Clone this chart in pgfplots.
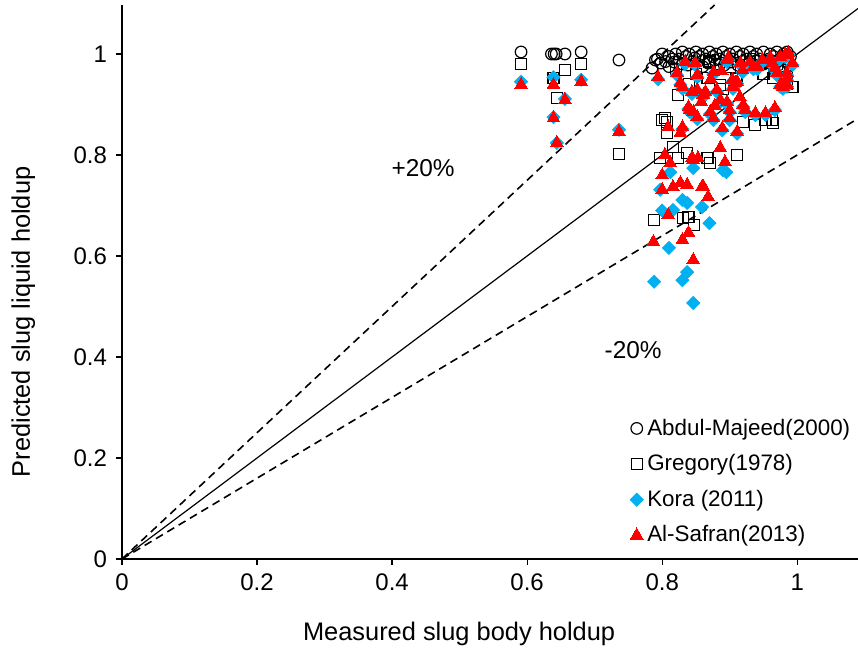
\documentclass[border=0pt]{standalone}
\usepackage{fontspec}
\setmainfont{Liberation Sans}
\usepackage{pgfplots}
\pgfplotsset{compat=1.18}
\definecolor{korablue}{RGB}{0,176,240}

\begin{document}
\begin{tikzpicture}
\path[use as bounding box] (-61pt,-44.5pt) rectangle (368pt,279.5pt);
\begin{axis}[
  scale only axis,
  width=368pt, height=277pt,
  xmin=0, xmax=1.09, ymin=0, ymax=1.097,
  axis lines=left,
  axis line style={-, line width=0.8pt},
  xtick={0,0.2,0.4,0.6,0.8,1},
  ytick={0,0.2,0.4,0.6,0.8,1},
  tick align=outside,
  major tick length=3pt,
  tick style={line width=0.6pt, black},
  /pgf/number format/assume math mode=true,
  ticklabel style={font=\fontsize{12}{14}\selectfont},
  xticklabel style={yshift=-1pt},
  yticklabel style={xshift=-1pt},
  xlabel={Measured slug body holdup},
  ylabel={Predicted slug liquid holdup},
  xlabel style={at={(axis description cs:0.458,0)}, anchor=base, yshift=-41pt, font=\fontsize{12.7}{15}\selectfont},
  ylabel style={at={(axis description cs:-0.125,0.428)}, anchor=base, font=\fontsize{12.7}{15}\selectfont},
  clip=false,
  legend style={draw=none, fill=none, at={(rel axis cs:0.69,0.261)}, anchor=north west,
    font=\fontsize{11.2}{13}\selectfont, row sep=4.2pt, inner sep=0pt},
  legend cell align=left,
  legend image code/.code={\draw[#1,only marks] plot coordinates {(0.1cm,0cm)};},
]

% Abdul-Majeed (2000)
\addplot[only marks, mark=o, mark size=2.9pt, mark options={draw=black, line width=0.6pt}] coordinates {
(0.591,1.004)(0.636,1.000)(0.640,1.000)(0.643,1.000)(0.656,1.000)(0.680,1.004)(0.736,0.988)
(0.785,0.972)(0.790,0.988)(0.793,0.990)(0.800,1.000)(0.805,0.985)(0.810,0.995)(0.815,0.990)
(0.820,1.000)(0.825,0.990)(0.830,1.004)(0.835,0.995)(0.840,1.000)(0.845,0.985)(0.850,1.004)
(0.855,0.995)(0.860,1.000)(0.865,0.990)(0.870,1.004)(0.875,0.995)(0.880,1.000)(0.885,0.990)
(0.890,1.004)(0.895,0.995)(0.900,1.000)(0.905,0.990)(0.910,1.004)(0.915,0.995)(0.920,1.000)
(0.925,0.990)(0.930,1.004)(0.935,0.995)(0.940,1.000)(0.945,0.990)(0.950,1.004)(0.960,1.000)
(0.965,0.995)(0.970,1.004)(0.975,0.990)(0.980,1.000)(0.985,1.004)(0.990,0.995)(0.810,0.975)
(0.830,0.980)(0.860,0.975)(0.880,0.980)(0.920,0.985)(0.950,0.980)(0.975,0.975)(0.985,0.985)
(0.798,0.982)(0.818,0.984)(0.838,0.978)(0.848,0.992)(0.868,0.982)(0.878,0.988)(0.892,0.978)
(0.902,0.984)(0.912,0.978)(0.928,0.980)(0.938,0.986)(0.958,0.990)(0.968,0.982)(0.988,0.978)
};
\addlegendentry{Abdul-Majeed(2000)}

% Gregory (1978)
\addplot[only marks, mark=square, mark size=2.75pt, mark options={draw=black, line width=0.6pt}] coordinates {
(0.591,0.980)(0.639,0.952)(0.644,0.913)(0.656,0.968)(0.680,0.980)(0.736,0.802)
(0.788,0.671)(0.831,0.675)(0.839,0.677)(0.847,0.661)
(0.807,0.844)(0.816,0.816)(0.797,0.794)(0.824,0.794)(0.837,0.804)(0.867,0.794)(0.871,0.784)
(0.807,0.865)(0.800,0.869)(0.920,0.865)(0.938,0.859)(0.963,0.869)(0.911,0.800)
(0.867,0.952)(0.886,0.939)(0.953,0.869)(0.993,0.935)(0.964,0.952)(0.964,0.863)
(0.824,0.919)(0.804,0.873)(0.820,0.970)(0.850,0.960)(0.870,0.985)(0.900,0.975)(0.930,0.990)
(0.950,0.960)(0.970,0.980)(0.985,0.990)(0.840,0.940)(0.890,0.930)(0.910,0.950)(0.985,0.955)
(0.985,0.940)(0.960,0.985)
};
\addlegendentry{Gregory(1978)}

% Kora (2011)
\addplot[only marks, mark=square*, mark size=2.3pt, mark options={rotate=45, draw=korablue, fill=korablue}] coordinates {
(0.591,0.945)(0.639,0.954)(0.639,0.875)(0.644,0.824)(0.656,0.911)(0.680,0.949)(0.736,0.850)
(0.788,0.549)(0.810,0.616)(0.837,0.568)(0.830,0.552)(0.846,0.507)(0.870,0.665)(0.800,0.690)
(0.837,0.705)(0.859,0.697)(0.895,0.766)(0.846,0.774)(0.797,0.731)(0.830,0.711)(0.816,0.691)
(0.812,0.766)(0.890,0.770)
(0.849,0.978)(0.876,0.960)(0.896,0.984)(0.919,0.964)(0.935,0.970)(0.948,0.984)(0.963,0.978)
(0.911,0.941)(0.881,0.925)(0.852,0.925)(0.861,0.915)(0.896,0.901)(0.846,0.881)(0.871,0.881)
(0.900,0.885)(0.923,0.885)(0.938,0.879)(0.953,0.879)(0.967,0.889)(0.905,0.931)(0.834,0.980)
(0.852,0.954)(0.898,0.988)(0.908,0.939)(0.844,0.921)(0.864,0.921)(0.841,0.885)(0.886,0.905)
(0.920,0.895)(0.852,0.871)(0.876,0.869)(0.900,0.869)(0.889,0.849)(0.911,0.842)(0.830,0.851)
(0.960,0.988)(0.975,0.990)(0.987,0.998)(0.970,0.958)(0.985,0.958)(0.975,0.935)(0.985,0.935)
(0.930,0.980)(0.941,0.970)(0.916,0.978)(0.904,0.945)(0.830,0.931)(0.794,0.950)(0.822,0.958)
(0.827,0.939)(0.839,0.891)(0.982,0.994)(0.993,0.978)(0.985,0.948)(0.979,0.931)(0.967,0.968)
};
\addlegendentry{Kora (2011)}

% Al-Safran (2013)
\addplot[only marks, mark=triangle*, mark size=3.7pt, mark options={draw=red, fill=red, line width=0pt}] coordinates {
(0.591,0.939)(0.639,0.939)(0.639,0.873)(0.644,0.824)(0.656,0.909)(0.680,0.945)(0.736,0.846)
(0.787,0.628)(0.830,0.632)(0.839,0.646)(0.846,0.592)(0.809,0.681)
(0.800,0.731)(0.816,0.737)(0.827,0.745)(0.837,0.741)(0.859,0.737)(0.868,0.717)(0.800,0.760)
(0.804,0.800)(0.812,0.784)(0.844,0.794)(0.853,0.794)(0.809,0.855)(0.827,0.844)(0.886,0.814)
(0.893,0.786)(0.861,0.737)(0.846,0.790)
(0.849,0.982)(0.876,0.964)(0.896,0.988)(0.919,0.968)(0.935,0.974)(0.948,0.988)(0.963,0.982)
(0.911,0.945)(0.881,0.929)(0.852,0.929)(0.861,0.919)(0.896,0.905)(0.846,0.885)(0.871,0.885)
(0.900,0.889)(0.923,0.889)(0.938,0.883)(0.953,0.883)(0.967,0.893)(0.905,0.935)(0.834,0.984)
(0.852,0.958)(0.898,0.992)(0.908,0.943)(0.844,0.925)(0.864,0.925)(0.841,0.889)(0.886,0.909)
(0.920,0.899)(0.852,0.875)(0.876,0.873)(0.900,0.873)(0.889,0.853)(0.911,0.846)(0.830,0.855)
(0.960,0.992)(0.975,0.994)(0.987,1.002)(0.970,0.962)(0.985,0.962)(0.975,0.939)(0.985,0.939)
(0.930,0.984)(0.941,0.974)(0.916,0.982)(0.904,0.949)(0.830,0.935)(0.794,0.954)(0.822,0.962)
(0.827,0.943)(0.839,0.895)(0.982,0.998)(0.993,0.982)(0.985,0.952)(0.979,0.935)(0.967,0.972)
(0.872,0.950)(0.888,0.966)(0.915,0.915)(0.878,0.898)(0.858,0.905)
};
\addlegendentry{Al-Safran(2013)}

% parity line and +/-20% bounds
\addplot[black, line width=0.6pt, forget plot] coordinates {(0,0)(1.09,1.09)};
\addplot[black, line width=0.8pt, dash pattern=on 4pt off 2.6pt, forget plot] coordinates {(0,0)(0.8776,1.097)};
\addplot[black, line width=0.8pt, dash pattern=on 4pt off 2.6pt, forget plot] coordinates {(0,0)(1.09,0.872)};

\node[font=\fontsize{12.2}{14}\selectfont] at (axis cs:0.446,0.774) {+20\%};
\node[font=\fontsize{12.2}{14}\selectfont] at (axis cs:0.757,0.414) {-20\%};
\end{axis}
\end{tikzpicture}
\end{document}
